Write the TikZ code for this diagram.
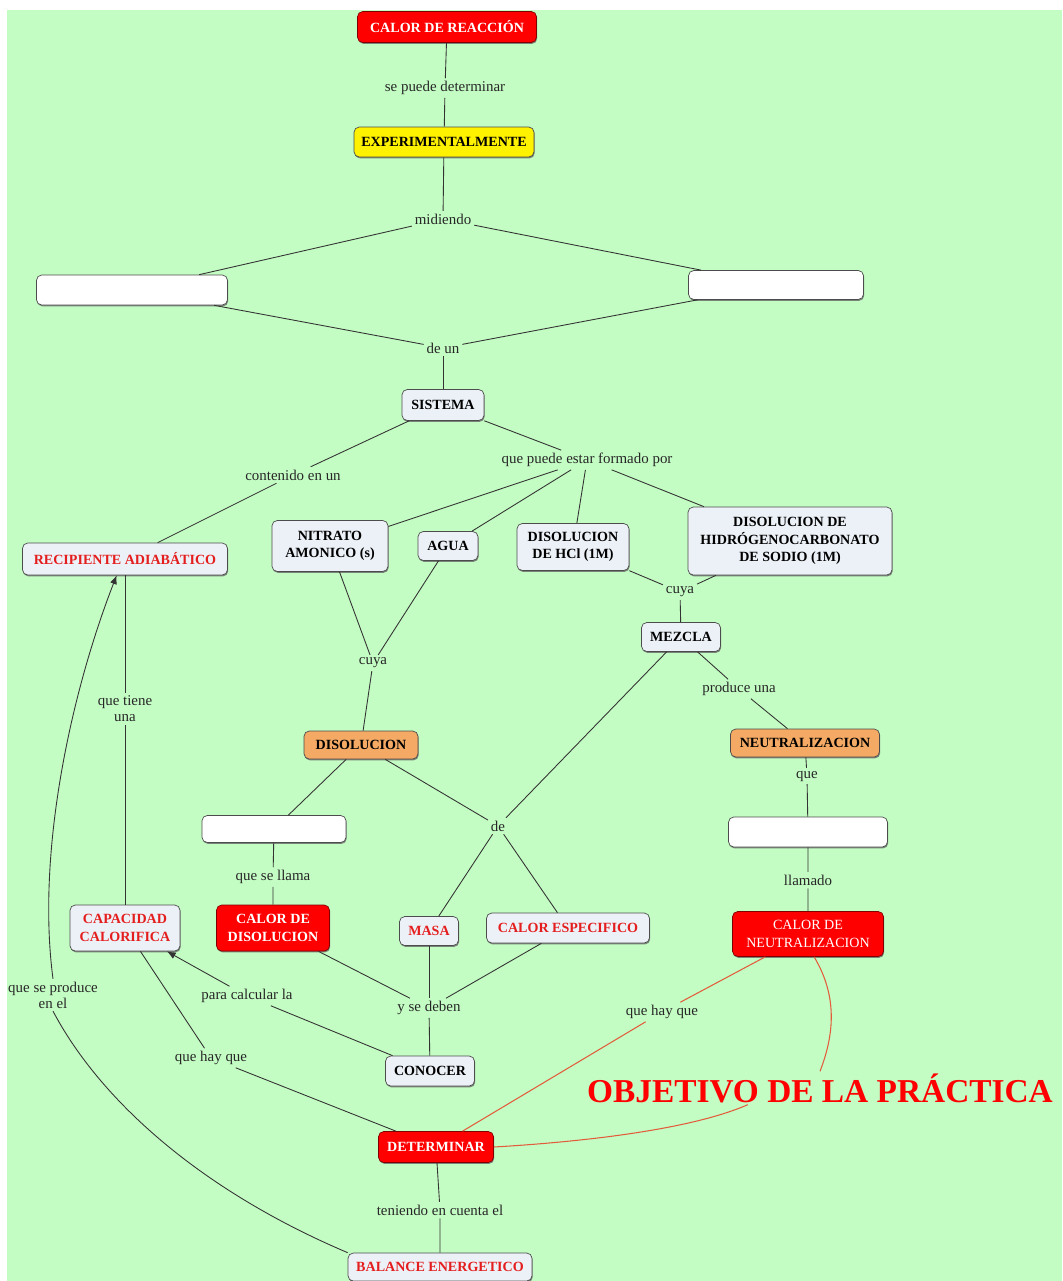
\documentclass[tikz,border=0pt]{standalone}
\usepackage{fontspec}
\setmainfont{Liberation Serif}
\usepackage{tikz}
\usetikzlibrary{shapes, arrows.meta, positioning, shadows}
\usetikzlibrary{calc}
\definecolor{fondo}{RGB}{196,253,196}
\definecolor{claro}{RGB}{236,241,247}
\definecolor{naranja}{RGB}{244,170,100}
\definecolor{rojizo}{RGB}{226,92,60}
\definecolor{textorojo}{RGB}{228,30,30}
\tikzset{
	wh/.style 2 args={minimum width=#1*0.02cm, minimum height=#2*0.02cm},
	concepto/.style={draw=black!70, rounded corners=3pt, fill=claro, align=center, inner sep=1pt,
		font=\fontsize{8}{10}\selectfont\bfseries,
		drop shadow={shadow xshift=0.4pt, shadow yshift=-0.8pt, fill=black!60, opacity=0.8}},
	conceptoRojo/.style={concepto, fill=red, draw=red!50!black, text=white},
	conceptoAmarillo/.style={concepto, fill=yellow},
	conceptoNaranja/.style={concepto, fill=naranja},
	conceptoTexto/.style={concepto, text=textorojo},
	vacio/.style={concepto, fill=white},
	enlace/.style={inner sep=1.5pt, align=center, text=black!85, font=\fontsize{8.5}{9}\selectfont},
	linea/.style={draw=black!80, line width=0.5pt},
	lineaRoja/.style={draw=rojizo, line width=0.6pt},
}
\begin{document}
\begin{tikzpicture}[x=0.02cm, y=-0.02cm]
	\useasboundingbox (0,0) rectangle (1062,1281);
	\fill[fondo] (7,10) rectangle (1062,1281);

	\node[conceptoRojo, wh={179}{31}] (reaccion) at (447,27) {CALOR DE REACCIÓN};
	\node[conceptoAmarillo, wh={180}{30}] (experim) at (444,142) {EXPERIMENTALMENTE};
	\node[vacio, wh={191}{30}] (medidaA) at (132,290) {};
	\node[vacio, wh={175}{29}] (medidaB) at (776,285) {};
	\node[concepto, wh={82}{31}] (sistema) at (443,405) {SISTEMA};
	\node[conceptoTexto, wh={205}{32}] (recipiente) at (125,559) {RECIPIENTE ADIABÁTICO};
	\node[concepto, wh={116}{51}] (nitrato) at (330,546) {NITRATO\\AMONICO (s)};
	\node[concepto, wh={60}{29}] (agua) at (448,546) {AGUA};
	\node[concepto, wh={112}{47}] (hcl) at (573,547) {DISOLUCION\\DE HCl (1M)};
	\node[concepto, wh={204}{68}] (hidro) at (790,541) {DISOLUCION DE\\HIDRÓGENOCARBONATO\\DE SODIO (1M)};
	\node[concepto, wh={79}{29}] (mezcla) at (681,637) {MEZCLA};
	\node[conceptoNaranja, wh={114}{28}] (disolucion) at (361,745) {DISOLUCION};
	\node[conceptoNaranja, wh={149}{28}] (neutral) at (805,743) {NEUTRALIZACION};
	\node[vacio, wh={144}{27}] (cajaA) at (274,829) {};
	\node[vacio, wh={159}{30}] (cajaB) at (808,832) {};
	\node[conceptoTexto, wh={110}{46}] (capacidad) at (125,928) {CAPACIDAD\\CALORIFICA};
	\node[conceptoRojo, wh={113}{46}] (caldis) at (273,928) {CALOR DE\\DISOLUCION};
	\node[conceptoTexto, wh={59}{29}] (masa) at (429,931) {MASA};
	\node[conceptoTexto, wh={163}{30}] (calesp) at (568,928) {CALOR ESPECIFICO};
	\node[conceptoRojo, wh={151}{45}, font=\fontsize{8}{10}\selectfont] (calneu) at (808,934) {CALOR DE\\NEUTRALIZACION};
	\node[concepto, wh={89}{30}] (conocer) at (430,1071) {CONOCER};
	\node[conceptoRojo, wh={115}{31}] (determinar) at (436,1147) {DETERMINAR};
	\node[conceptoTexto, wh={184}{28}] (balance) at (440,1267) {BALANCE ENERGETICO};
	\node[text=red, inner sep=1pt, font=\fontsize{19}{21}\selectfont\bfseries] (objetivo) at (820,1088) {OBJETIVO DE LA PRÁCTICA};

	\node[enlace] (l1) at (445,88) {se puede determinar};
	\node[enlace] (l2) at (443,219) {midiendo};
	\node[enlace] (l3) at (443,348) {de un};
	\node[enlace] (l4) at (293,475) {contenido en un};
	\node[enlace] (l5) at (587,460) {que puede estar formado por};
	\node[enlace] (l6) at (680,592) {cuya};
	\node[enlace] (l7) at (373,663) {cuya};
	\node[enlace] (l8) at (125,709) {que tiene\\una};
	\node[enlace] (l9) at (739,689) {produce una};
	\node[enlace] (l10) at (807,776) {que};
	\node[enlace] (l11) at (498,826) {de};
	\node[enlace] (l12) at (273,877) {que se llama};
	\node[enlace] (l13) at (808,880) {llamado};
	\node[enlace] (l14) at (53,995) {que se produce\\en el};
	\node[enlace] (l15) at (247,996) {para calcular la};
	\node[enlace] (l16) at (429,1008) {y se deben};
	\node[enlace] (l17) at (662,1012) {que hay que};
	\node[enlace] (l18) at (211,1058) {que hay que};
	\node[enlace] (l19) at (440,1210) {teniendo en cuenta el};

	\draw[linea] (reaccion) -- (l1) -- (experim);
	\draw[linea] (experim) -- (l2);
	\draw[linea] (l2) -- (medidaA);
	\draw[linea] (l2) -- (medidaB);
	\draw[linea] (medidaA) -- (l3);
	\draw[linea] (medidaB) -- (l3);
	\draw[linea] (l3) -- (sistema);
	\draw[linea] (sistema) -- (l4) -- (recipiente);
	\draw[linea] (sistema) -- (l5);
	\draw[linea] (l5) -- (nitrato);
	\draw[linea] (l5) -- (agua);
	\draw[linea] (l5) -- (hcl);
	\draw[linea] (l5) -- (hidro);
	\draw[linea] (hcl) -- (l6);
	\draw[linea] (hidro) -- (l6);
	\draw[linea] (l6) -- (mezcla);
	\draw[linea] (nitrato) -- (l7);
	\draw[linea] (agua) -- (l7);
	\draw[linea] (l7) -- (disolucion);
	\draw[linea] (mezcla) -- (l9) -- (neutral);
	\draw[linea] (mezcla) -- (l11);
	\draw[linea] (disolucion) -- (l11);
	\draw[linea] (l11) -- (masa);
	\draw[linea] (l11) -- (calesp);
	\draw[linea] (disolucion) -- (cajaA) -- (l12) -- (caldis);
	\draw[linea] (neutral) -- (l10) -- (cajaB) -- (l13) -- (calneu);
	\draw[linea] (recipiente) -- (l8) -- (capacidad);
	\draw[linea] (caldis) -- (l16);
	\draw[linea] (masa) -- (l16);
	\draw[linea] (calesp) -- (l16);
	\draw[linea] (l16) -- (conocer);
	\draw[linea] (conocer) -- (l15);
	\draw[linea, -{Latex[length=5pt, width=4pt]}] (l15) -- (capacidad);
	\draw[linea] (capacidad) -- (l18) -- (determinar);
	\draw[linea] (determinar) -- (l19) -- (balance);
	\draw[linea] (balance.north west) .. controls (200,1190) and (100,1100) .. (l14.south);
	\draw[linea, -{Latex[length=5pt, width=4pt]}] (l14.north) .. controls (36,850) and (72,690) .. (recipiente.-117);
	\draw[lineaRoja] (calneu) -- (l17) -- (determinar);
	\draw[lineaRoja] (calneu.-75) .. controls (840,1000) and (832,1040) .. (objetivo.north);
	\draw[lineaRoja] (objetivo.-167) .. controls (690,1130) and (580,1142) .. (determinar.east);
\end{tikzpicture}
\end{document}
